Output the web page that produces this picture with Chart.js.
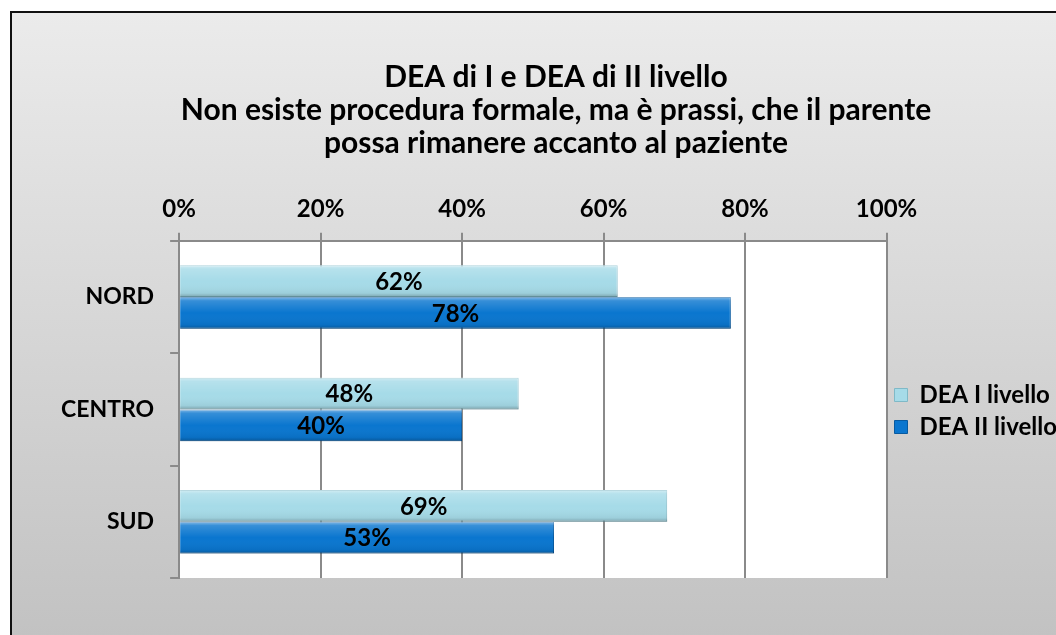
<!DOCTYPE html>
<html>
<head>
<meta charset="utf-8">
<script src="https://cdn.jsdelivr.net/npm/chart.js@4/dist/chart.umd.min.js"></script>
<style>
  html, body { margin: 0; padding: 0; width: 1056px; height: 635px; overflow: hidden; background: #ffffff; }
  #frame {
    position: absolute; left: 10px; top: 11px; width: 1100px; height: 700px;
    border-left: 2px solid #111; border-top: 2px solid #111;
    background: linear-gradient(#ebebeb, #bdbdbd);
  }
  #wrap { position: absolute; left: -27px; top: 0; width: 1090px; height: 622px; }
</style>
</head>
<body>
<div id="frame">
  <div id="wrap"><canvas id="chart"></canvas></div>
</div>
<script>
// data
const categories = ['NORD', 'CENTRO', 'SUD'];
const seriesNames = ['DEA I livello', 'DEA II livello'];
const deaPrimo = [62, 48, 69];
const deaSecondo = [78, 40, 53];
const tickValues = [0, 20, 40, 60, 80, 100];
const titleLines = [
    'DEA di I e DEA di II livello',
    'Non esiste procedura formale, ma è prassi, che il parente',
    'possa rimanere accanto al paziente'
];

const FONT = 'Lato, "Open Sans", sans-serif';

// white plot area behind the bars
const plotBackground = {
    id: 'plotBackground',
    beforeDraw(chart) {
        const { ctx, chartArea } = chart;
        ctx.save();
        ctx.fillStyle = '#ffffff';
        ctx.fillRect(chartArea.left, chartArea.top, chartArea.right - chartArea.left, chartArea.bottom - chartArea.top);
        ctx.restore();
    }
};

// bevel-ish shading on the bars and the percent labels
const barShadeAndLabels = {
    id: 'barShadeAndLabels',
    afterDatasetsDraw(chart) {
        const ctx = chart.ctx;
        chart.data.datasets.forEach((ds, di) => {
            const meta = chart.getDatasetMeta(di);
            meta.data.forEach((bar) => {
                const top = bar.y - bar.height / 2;
                const left = Math.min(bar.x, bar.base);
                const w = Math.abs(bar.x - bar.base);
                const g = ctx.createLinearGradient(0, top, 0, top + bar.height);
                g.addColorStop(0, 'rgba(255,255,255,0.5)');
                g.addColorStop(0.12, 'rgba(255,255,255,0.18)');
                g.addColorStop(0.5, 'rgba(255,255,255,0)');
                g.addColorStop(0.88, 'rgba(0,0,0,0.06)');
                g.addColorStop(1, 'rgba(0,0,0,0.25)');
                ctx.save();
                ctx.fillStyle = g;
                ctx.fillRect(left, top, w, bar.height);
                ctx.restore();
            });
        });
        chart.data.datasets.forEach((ds, di) => {
            const meta = chart.getDatasetMeta(di);
            meta.data.forEach((bar, i) => {
                ctx.save();
                ctx.font = 'bold 24px ' + FONT;
                ctx.fillStyle = '#000';
                ctx.textAlign = 'center';
                ctx.textBaseline = 'middle';
                ctx.fillText(ds.data[i] + '%', (bar.x + bar.base) / 2, bar.y + 1);
                ctx.restore();
            });
        });
    }
};

new Chart(document.getElementById('chart'), {
    type: 'bar',
    data: {
        labels: categories,
        datasets: [
            {
                label: seriesNames[0],
                data: deaPrimo,
                backgroundColor: '#a6dbe8',
                borderColor: '#7fb9c7',
                borderWidth: 1,
                categoryPercentage: 0.565,
                barPercentage: 1.0
            },
            {
                label: seriesNames[1],
                data: deaSecondo,
                backgroundColor: '#0a76cf',
                borderColor: '#075aa0',
                borderWidth: 1,
                categoryPercentage: 0.565,
                barPercentage: 1.0
            }
        ]
    },
    options: {
        indexAxis: 'y',
        responsive: true,
        maintainAspectRatio: false,
        animation: false,
        layout: { padding: { left: 60, right: 8, bottom: 57, top: 0 } },
        plugins: {
            title: {
                display: true,
                text: titleLines,
                color: '#000',
                font: { family: FONT, size: 30, weight: 'bold', lineHeight: 1.1 },
                padding: { top: 48, bottom: 26 }
            },
            legend: {
                position: 'right',
                title: { display: true, text: '', font: { size: 10, lineHeight: 1 }, padding: { top: 221, bottom: 0 } },
                labels: {
                    color: '#000',
                    boxWidth: 13,
                    boxHeight: 13,
                    padding: 8,
                    font: { family: FONT, size: 24, weight: 'bold' }
                }
            },
            tooltip: { enabled: false }
        },
        scales: {
            x: {
                position: 'top',
                min: 0,
                max: 100,
                afterBuildTicks: (axis) => { axis.ticks = tickValues.map(v => ({ value: v })); },
                ticks: {
                    color: '#000',
                    padding: 9,
                    font: { family: FONT, size: 24, weight: 'bold' },
                    callback: (v) => v + '%'
                },
                grid: { color: '#8a8a8a', lineWidth: 2, tickLength: 8 },
                border: { color: '#8a8a8a', width: 2 }
            },
            y: {
                ticks: {
                    color: '#000',
                    padding: 16,
                    font: { family: FONT, size: 23, weight: 'bold' }
                },
                grid: { drawOnChartArea: false, color: '#8a8a8a', lineWidth: 2, tickLength: 9 },
                border: { color: '#8a8a8a', width: 2 }
            }
        }
    },
    plugins: [plotBackground, barShadeAndLabels]
});
</script>
</body>
</html>
